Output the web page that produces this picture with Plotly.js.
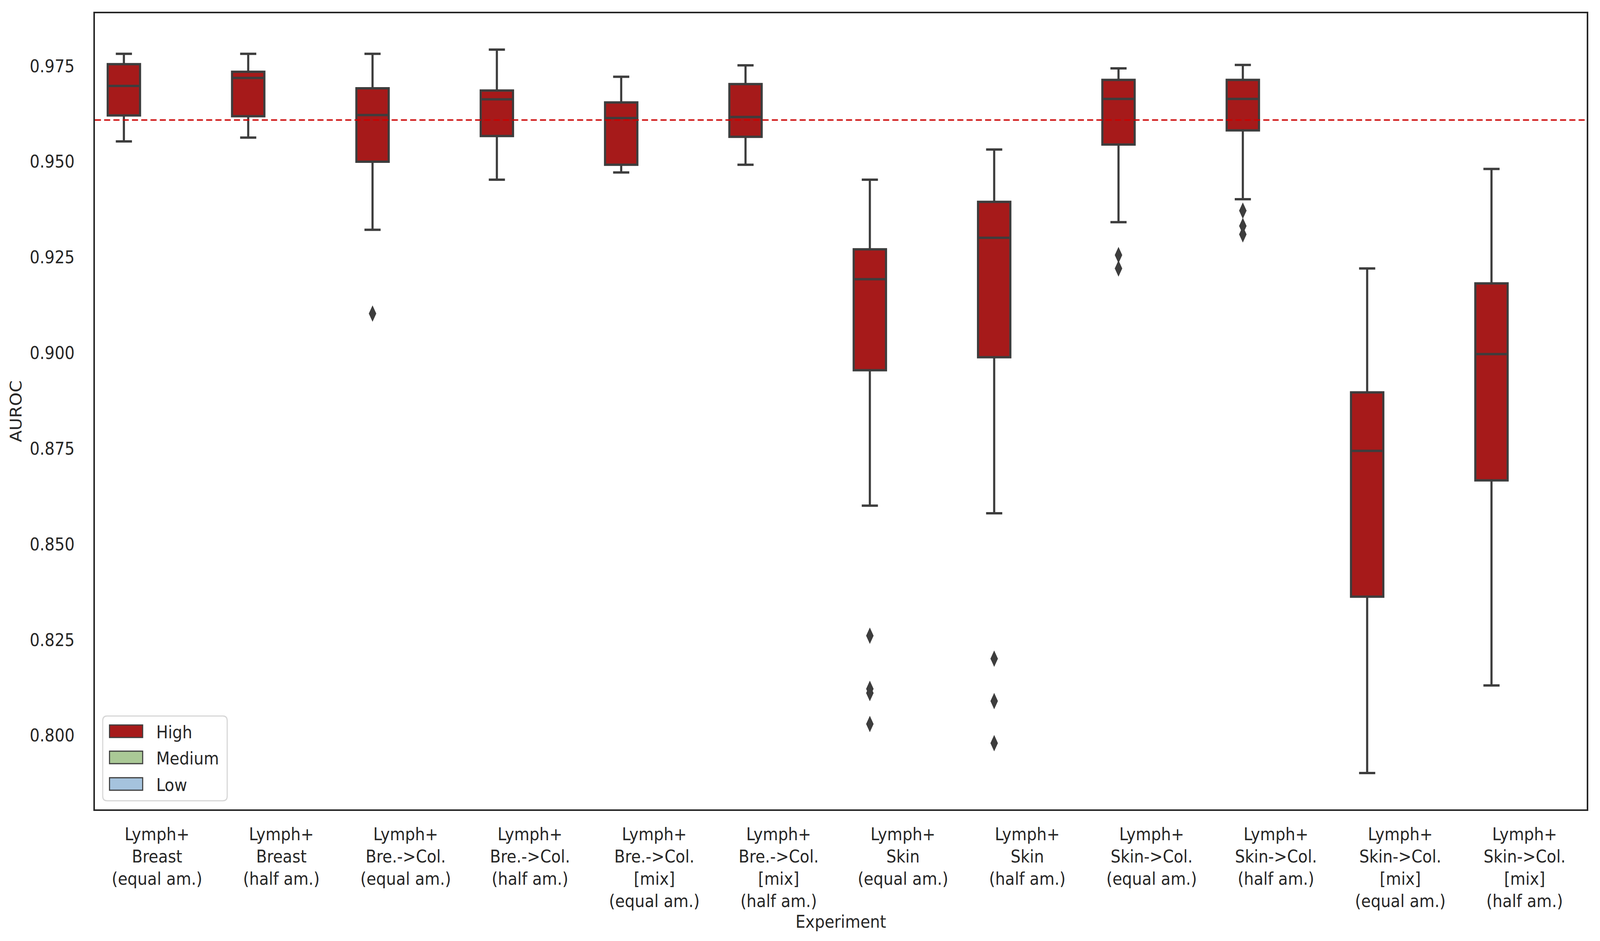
<!DOCTYPE html>
<html>
<head>
<meta charset="utf-8">
<script src="https://cdn.plot.ly/plotly-3.0.1.min.js"></script>
<style>
  html, body { margin: 0; padding: 0; background: #ffffff; overflow: hidden; }
  #chart { transform-origin: 0 0; }
</style>
</head>
<body>
<div id="chart"></div>
<script>
'use strict'

// Experiments along the x axis
const experiments = [
    "Lymph+<br>Breast<br>(equal am.)",
    "Lymph+<br>Breast<br>(half am.)",
    "Lymph+<br>Bre.->Col.<br>(equal am.)",
    "Lymph+<br>Bre.->Col.<br>(half am.)",
    "Lymph+<br>Bre.->Col.<br>[mix]<br>(equal am.)",
    "Lymph+<br>Bre.->Col.<br>[mix]<br>(half am.)",
    "Lymph+<br>Skin<br>(equal am.)",
    "Lymph+<br>Skin<br>(half am.)",
    "Lymph+<br>Skin->Col.<br>(equal am.)",
    "Lymph+<br>Skin->Col.<br>(half am.)",
    "Lymph+<br>Skin->Col.<br>[mix]<br>(equal am.)",
    "Lymph+<br>Skin->Col.<br>[mix]<br>(half am.)"
];

// Box statistics for the "High" group
const lowerWhisker = [0.9553, 0.9563, 0.9322, 0.9453, 0.9472, 0.9492, 0.8601, 0.8581, 0.9342, 0.9402, 0.7902, 0.8131];
const q1 = [0.9621, 0.9619, 0.9500, 0.9567, 0.9492, 0.9565, 0.8955, 0.8989, 0.9545, 0.9582, 0.8363, 0.8667];
const median = [0.9698, 0.9719, 0.9622, 0.9663, 0.9614, 0.9617, 0.9193, 0.9301, 0.9664, 0.9664, 0.8744, 0.8997];
const q3 = [0.9755, 0.9735, 0.9692, 0.9686, 0.9655, 0.9703, 0.9271, 0.9395, 0.9714, 0.9714, 0.8897, 0.9182];
const upperWhisker = [0.9782, 0.9782, 0.9782, 0.9793, 0.9722, 0.9752, 0.9453, 0.9532, 0.9744, 0.9753, 0.9221, 0.9481];

// Outliers: experiment index + AUROC
const outlierExp = [2, 6, 6, 6, 6, 7, 7, 7, 8, 8, 9, 9, 9];
const outlierVal = [0.9103, 0.8261, 0.8122, 0.8111, 0.8030, 0.8201, 0.8090, 0.7980, 0.9256, 0.9221, 0.9372, 0.9332, 0.9310];

// Reference line
const baselineAuroc = 0.9609;

// Hue levels (only High has data)
const hueLevels = ["High", "Medium", "Low"];
const hueColors = ["#a61a1a", "#aac996", "#a5c3dd"];

// laid out at the figure's own size, then fitted to the window with a css scale
const W = 4486, H = 2409;
const M = {l: 266, r: 37, t: 34, b: 337};
const edge = "#3d3d3d";
const textColor = "#262626";
const font = "DejaVu Sans";
const fs = 44;

const vw = window.innerWidth || W, vh = window.innerHeight || H;
document.getElementById('chart').style.transform = `scale(${vw / W}, ${vh / H})`;

// seaborn dodge: 3 hue levels inside 0.8 width
const hueWidth = 0.8 / hueLevels.length;
const highOffset = -hueWidth;
const boxX = experiments.map((e, i) => i + highOffset);
const outlierX = outlierExp.map(i => i + highOffset);

let boxTrace = {
    type: 'box',
    x: boxX,
    q1: q1,
    median: median,
    q3: q3,
    lowerfence: lowerWhisker,
    upperfence: upperWhisker,
    width: 0.26,
    whiskerwidth: 0.5,
    boxpoints: false,
    fillcolor: hueColors[0],
    line: {color: edge, width: 6},
    name: hueLevels[0],
    showlegend: false,
    hoverinfo: 'skip'
};

let outlierTrace = {
    type: 'scatter',
    mode: 'markers',
    x: outlierX,
    y: outlierVal,
    marker: {symbol: 'diamond-tall', size: 30, color: edge},
    showlegend: false,
    hoverinfo: 'skip'
};

// pixel -> paper helpers for the hand-built legend
const pw = W - M.l - M.r, ph = H - M.t - M.b;
const px = X => (X - M.l) / pw;
const py = Y => (H - M.b - Y) / ph;

let shapes = [{
    type: 'line', xref: 'paper', x0: 0, x1: 1, yref: 'y', y0: baselineAuroc, y1: baselineAuroc,
    line: {color: '#cc0000', width: 3.5, dash: '17px,9px'}
}];

// legend frame with rounded corners
const lx0 = 288, lx1 = 637, ly0 = 1833, ly1 = 2050, rad = 12;
const rx = rad / pw, ry = rad / ph;
const fl = px(lx0), fr = px(lx1), ft = py(ly0), fb = py(ly1);
shapes.push({
    type: 'path', xref: 'paper', yref: 'paper',
    path: `M ${fl + rx},${ft} L ${fr - rx},${ft} Q ${fr},${ft} ${fr},${ft - ry} ` +
          `L ${fr},${fb + ry} Q ${fr},${fb} ${fr - rx},${fb} L ${fl + rx},${fb} ` +
          `Q ${fl},${fb} ${fl},${fb + ry} L ${fl},${ft - ry} Q ${fl},${ft} ${fl + rx},${ft} Z`,
    fillcolor: 'rgba(255,255,255,0.8)',
    line: {color: '#d6d6d6', width: 3},
    layer: 'above'
});

let annotations = [];
const rowY = [1872, 1939, 2007];
hueLevels.forEach((lvl, i) => {
    shapes.push({
        type: 'rect', xref: 'paper', yref: 'paper',
        x0: px(307), x1: px(400), y0: py(rowY[i] - 16), y1: py(rowY[i] + 16),
        fillcolor: hueColors[i], line: {color: edge, width: 3}, layer: 'above'
    });
    annotations.push({
        xref: 'paper', yref: 'paper', x: px(436), y: py(rowY[i] + 2),
        xanchor: 'left', yanchor: 'middle', showarrow: false,
        text: lvl, font: {family: font, size: fs, color: textColor}
    });
});

const layout = {
    width: W,
    height: H,
    margin: M,
    paper_bgcolor: '#ffffff',
    plot_bgcolor: '#ffffff',
    font: {family: font, size: fs, color: textColor},
    showlegend: false,
    xaxis: {
        range: [-0.5, experiments.length - 0.5],
        tickmode: 'array',
        tickvals: experiments.map((e, i) => i),
        ticktext: experiments,
        showgrid: false,
        zeroline: false,
        showline: true,
        mirror: true,
        linecolor: textColor,
        linewidth: 4,
        ticks: 'outside',
        ticklen: 22,
        tickcolor: 'rgba(0,0,0,0)',
        tickfont: {family: font, size: fs, color: textColor},
        title: {text: 'Experiment', standoff: 14, font: {family: font, size: fs, color: textColor}},
        automargin: false
    },
    yaxis: {
        range: [0.7807, 0.9888],
        tick0: 0.8,
        dtick: 0.025,
        tickformat: '.3f',
        showgrid: false,
        zeroline: false,
        showline: true,
        mirror: true,
        linecolor: textColor,
        linewidth: 4,
        ticks: 'outside',
        ticklen: 44,
        tickcolor: 'rgba(0,0,0,0)',
        tickfont: {family: font, size: fs, color: textColor},
        title: {text: 'AUROC', standoff: 10, font: {family: font, size: fs, color: textColor}},
        automargin: false
    },
    shapes: shapes,
    annotations: annotations
};

const config = {displayModeBar: false, staticPlot: true};

Plotly.newPlot('chart', [boxTrace, outlierTrace], layout, config);
</script>
</body>
</html>
